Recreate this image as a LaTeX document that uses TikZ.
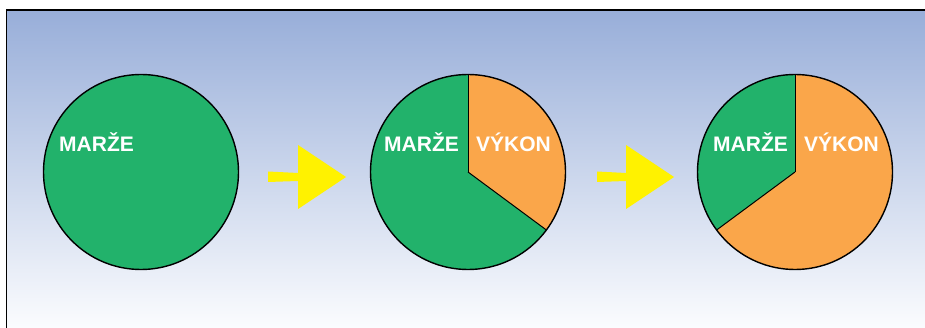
\documentclass[tikz,border=0pt]{standalone}
\usepackage{fontspec}
\setmainfont{Liberation Sans}
\definecolor{skytop}{RGB}{152,174,217}
\definecolor{skybot}{RGB}{251,252,254}
\definecolor{piegreen}{RGB}{34,178,107}
\definecolor{pieorange}{RGB}{250,166,74}
\definecolor{arrowyellow}{RGB}{255,242,0}
\tikzset{
  pieedge/.style={draw=black, line width=1.4pt},
  slicelabel/.style={anchor=base west, inner sep=0pt, text=white,
    font=\fontsize{21}{24}\selectfont\bfseries},
  pie/.style={circle, minimum size=195pt, inner sep=0pt, fill=piegreen},
  blockarrow/.style={fill=arrowyellow, draw=none},
}
\begin{document}
\begin{tikzpicture}[x=1pt, y=-1pt]
\useasboundingbox (0,0) rectangle (925,328);
% backdrop panel with its frame on the left and top
\shade[top color=skytop, bottom color=skybot] (6.5,10) rectangle (925,328);
\draw[line width=1.5pt, black] (6.5,328) -- (6.5,10) -- (925,10);

% the three pies
\node[pie] (pie1) at (141,172) {};
\node[pie] (pie2) at (468,172) {};
\node[pie] (pie3) at (795,172) {};

% orange slices
\fill[pieorange] (pie2.center) -- ++(0,-97.5) arc[start angle=-90, end angle=36.5, radius=97.5] -- cycle;
\fill[pieorange] (pie3.center) -- ++(0,-97.5) arc[start angle=-90, end angle=143.5, radius=97.5] -- cycle;

% slice borders
\draw[black, line width=1pt] (pie2.center) -- ++(0,-97.5);
\draw[black, line width=1pt] (pie2.center) -- ++(-36.5:97.5 and -97.5);
\draw[black, line width=1pt] (pie3.center) -- ++(0,-97.5);
\draw[black, line width=1pt] (pie3.center) -- ++(216.5:97.5 and -97.5);

% outlines
\draw[pieedge] (pie1.center) circle[radius=97.5];
\draw[pieedge] (pie2.center) circle[radius=97.5];
\draw[pieedge] (pie3.center) circle[radius=97.5];

% labels
\node[slicelabel] (m1) at (59,152) {MARŽE};
\node[slicelabel] (m2) at (384,152) {MARŽE};
\node[slicelabel] (v2) at (476,152) {VÝKON};
\node[slicelabel] (m3) at (713,152) {MARŽE};
\node[slicelabel] (v3) at (804,152) {VÝKON};

% yellow block arrows between the pies
\fill[blockarrow] (268,171.5) -- (298,173) -- (298,145) -- (346,177) -- (298,209) -- (298,181) -- (268,182) -- cycle;
\fill[blockarrow] (597,171.5) -- (626,173) -- (626,145) -- (674,177) -- (626,209) -- (626,181) -- (597,182) -- cycle;
\end{tikzpicture}
\end{document}
